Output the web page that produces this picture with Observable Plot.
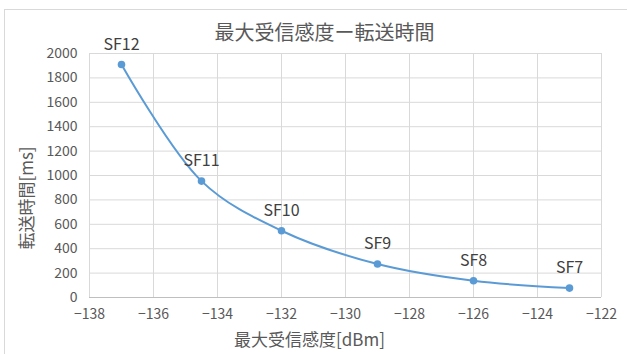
<!DOCTYPE html>
<html>
<head>
<meta charset="utf-8">
<script src="https://cdn.jsdelivr.net/npm/d3@7"></script>
<script src="https://cdn.jsdelivr.net/npm/@observablehq/plot@0.6"></script>
<style>
  html, body { margin: 0; padding: 0; background: #fff; overflow: hidden; }
  #wrap { position: relative; width: 627px; height: 354px; overflow: hidden; }
  #border { position: absolute; left: 4px; top: 9px; width: 700px; height: 400px; border: 1px solid #d9d9d9; box-sizing: border-box; }
  #chart { position: absolute; left: 0; top: 0; }
  #ytitle { position: absolute; left: 25px; top: 198px; transform: translate(-50%, -50%) rotate(-90deg);
    font-family: 'Noto Sans CJK JP', 'Noto Sans', sans-serif; font-size: 17px; color: #595959; white-space: nowrap; line-height: 1; }
</style>
</head>
<body>
<div id="wrap"><div id="border"></div><div id="chart"></div><div id="ytitle"></div></div>
<script>
const sfNames = ["SF12", "SF11", "SF10", "SF9", "SF8", "SF7"];
const sensitivity = [-137, -134.5, -132, -129, -126, -123];
const transferMs = [1910, 954, 547, 274, 137, 77];
const xTicks = [-138, -136, -134, -132, -130, -128, -126, -124, -122];
const yTicks = [0, 200, 400, 600, 800, 1000, 1200, 1400, 1600, 1800, 2000];
const titleText = "最大受信感度ー転送時間";
const xTitle = "最大受信感度[dBm]";
const yTitle = "転送時間[ms]";

const data = sfNames.map((n, i) => ({name: n, x: sensitivity[i], y: transferMs[i]}));
const font = "'Noto Sans CJK JP', 'Noto Sans', sans-serif";
const blue = "#5b9bd5";

const chart = Plot.plot({
  width: 627,
  height: 354,
  marginLeft: 89,
  marginRight: 26,
  marginTop: 53,
  marginBottom: 57,
  style: {fontFamily: font, background: "transparent", color: "#595959"},
  x: {domain: [-138, -122], ticks: xTicks},
  y: {domain: [0, 2000], ticks: yTicks},
  marks: [
    Plot.gridX(xTicks, {stroke: "#d9d9d9", strokeOpacity: 1, strokeWidth: 1}),
    Plot.gridY(yTicks, {stroke: "#d9d9d9", strokeOpacity: 1, strokeWidth: 1}),
    Plot.ruleY([0], {stroke: "#bfbfbf", strokeWidth: 1}),
    Plot.axisX(xTicks, {tickSize: 0, tickPadding: 12, fontSize: 14, fill: "#595959", label: null}),
    Plot.axisY(yTicks, {tickSize: 0, tickPadding: 12, fontSize: 14, fill: "#595959", label: null, tickFormat: d3.format("d")}),
    Plot.line(data, {x: "x", y: "y", curve: "catmull-rom", stroke: blue, strokeWidth: 2}),
    Plot.dot(data, {x: "x", y: "y", r: 3.8, fill: blue, stroke: "none"}),
    Plot.text(data, {x: "x", y: "y", text: "name", dy: -20, fontSize: 16, fill: "#404040"}),
    Plot.text([titleText], {frameAnchor: "top", textAnchor: "middle", lineAnchor: "middle", dx: -21, dy: -20, fontSize: 20, fill: "#595959"}),
    Plot.text([xTitle], {frameAnchor: "bottom", textAnchor: "middle", lineAnchor: "middle", dx: -36, dy: 43, fontSize: 17, fill: "#595959"})
  ]
});
document.getElementById("chart").appendChild(chart);
document.getElementById("ytitle").textContent = yTitle;
</script>
</body>
</html>
